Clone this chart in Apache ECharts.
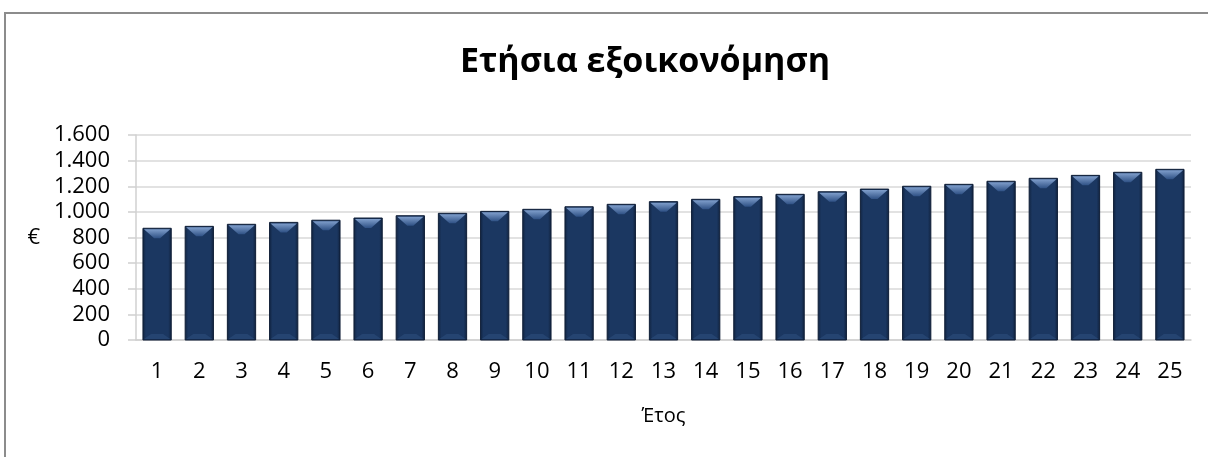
<!DOCTYPE html>
<html>
<head>
<meta charset="utf-8">
<title>Ετήσια εξοικονόμηση</title>
<script src="https://cdn.jsdelivr.net/npm/echarts@6/dist/echarts.min.js"></script>
<style>
  html, body { margin: 0; padding: 0; background: #fff; }
  #main { width: 1208px; height: 457px; }
</style>
</head>
<body>
<div id="main"></div>
<script>
// έτη 1..25
var years = ['1','2','3','4','5','6','7','8','9','10','11','12','13','14','15','16','17','18','19','20','21','22','23','24','25'];
// ετήσια εξοικονόμηση σε €
var savings = [872, 887, 903, 918, 935, 952, 970, 989, 1004, 1020, 1040, 1059, 1080, 1098, 1119, 1137, 1157, 1178, 1200, 1215, 1239, 1262, 1285, 1309, 1332];
var yTicks = [0, 200, 400, 600, 800, 1000, 1200, 1400, 1600];

var font = '"Open Sans", "Noto Sans", sans-serif';

function fmt(v) {
  // 1600 -> 1.600
  return String(v).replace(/\B(?=(\d{3})+(?!\d))/g, '.');
}

// bar with a bevelled top, like the excel style
function renderBar(params, api) {
  var top = api.coord([api.value(0), api.value(1)]);
  var base = api.coord([api.value(0), 0]);
  var w = api.size([1, 0])[0] * 0.67;
  var x = top[0] - w / 2;
  var h = base[1] - top[1];
  var bev = Math.min(10, h / 2);
  return {
    type: 'group',
    children: [
      {
        type: 'rect',
        shape: { x: x, y: top[1], width: w, height: h },
        style: {
          fill: new echarts.graphic.LinearGradient(0, 0, 1, 0, [
            { offset: 0, color: '#11233f' },
            { offset: 0.12, color: '#1b3761' },
            { offset: 0.88, color: '#1b3761' },
            { offset: 1, color: '#10213c' }
          ]),
          stroke: '#0e1d36',
          lineWidth: 1
        }
      },
      {
        type: 'polygon',
        shape: { points: [[x + 1, top[1] + 1], [x + w - 1, top[1] + 1], [x + w / 2 + 3, top[1] + bev], [x + w / 2 - 3, top[1] + bev]] },
        style: {
          fill: new echarts.graphic.LinearGradient(0, 0, 0, 1, [
            { offset: 0, color: '#7f9ecb' },
            { offset: 1, color: '#2f5185' }
          ])
        }
      },
      {
        type: 'polygon',
        shape: { points: [[x + 1, base[1] - 1], [x + w - 1, base[1] - 1], [x + w / 2 + 6, base[1] - 6], [x + w / 2 - 6, base[1] - 6]] },
        style: { fill: '#2a4a78', opacity: 0.7 }
      }
    ]
  };
}

var chart = echarts.init(document.getElementById('main'));
var option = {
  backgroundColor: '#fff',
  animation: false,
  title: {
    text: 'Ετήσια εξοικονόμηση',
    left: 640,
    textAlign: 'center',
    top: 40,
    textStyle: { fontFamily: font, fontSize: 34, fontWeight: 'bold', color: '#000' }
  },
  graphic: [
    {
      // chart frame, only left and top edges are inside the picture
      type: 'polyline',
      silent: true,
      shape: { points: [[5, 700], [5, 13], [1500, 13]] },
      style: { fill: null, stroke: '#8c8c8c', lineWidth: 2 }
    }
  ],
  grid: { left: 136, right: 17, top: 135, bottom: 117 },
  xAxis: {
    type: 'category',
    data: years,
    name: 'Έτος',
    nameLocation: 'middle',
    nameGap: 66,
    nameTextStyle: { fontFamily: font, fontSize: 20, color: '#000' },
    axisLine: { lineStyle: { color: '#d0d0d0', width: 1.5 } },
    axisTick: { length: 9, lineStyle: { color: '#d0d0d0', width: 1.5 } },
    axisLabel: { fontFamily: font, fontSize: 22, color: '#000', margin: 21 }
  },
  yAxis: {
    type: 'value',
    min: yTicks[0],
    max: yTicks[yTicks.length - 1],
    interval: 200,
    name: '€',
    nameLocation: 'middle',
    nameRotate: 0,
    nameGap: 96,
    nameTextStyle: { fontFamily: font, fontSize: 22, color: '#000', padding: [0, 0, 18, 0] },
    axisLine: { show: true, lineStyle: { color: '#d0d0d0', width: 1.5 } },
    axisTick: { show: true, length: 8, lineStyle: { color: '#d0d0d0', width: 1.5 } },
    axisLabel: { fontFamily: font, fontSize: 22, color: '#000', margin: 26, formatter: fmt },
    splitLine: { lineStyle: { color: '#d9d9d9', width: 1.5 } }
  },
  series: [
    {
      type: 'custom',
      renderItem: renderBar,
      encode: { x: 0, y: 1 },
      data: savings.map(function (v, i) { return [i, v]; })
    }
  ]
};
chart.setOption(option);
</script>
</body>
</html>
